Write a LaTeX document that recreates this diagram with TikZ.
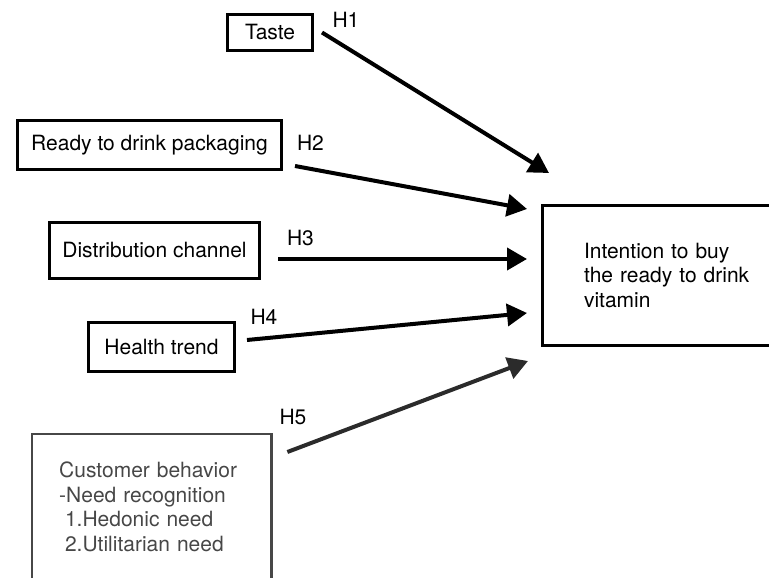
\documentclass[tikz,border=0pt]{standalone}
\usepackage{fontspec}
\setmainfont{TeX Gyre Heros}
\usetikzlibrary{arrows.meta}
\definecolor{custgray}{HTML}{474747}
\tikzset{
  box/.style={draw,line width=3pt,inner sep=0pt,minimum height=49pt},
  hyp/.style={-{Triangle[length=20pt,width=22pt]},line width=4pt},
  hlabel/.style={inner sep=0pt},
}

\begin{document}
\begin{tikzpicture}[x=1pt,y=1pt,font=\fontsize{21pt}{24.5pt}\selectfont]
			\useasboundingbox (0,0) rectangle (769,578);
			\clip (0,0) rectangle (769,578);
			\node[box,minimum width=85pt,minimum height=36pt] (taste) at (270,545.5) {Taste};
			\node[box,minimum width=264pt] (ready) at (149.5,433) {Ready to drink packaging};
			\node[box,minimum width=210pt,minimum height=56pt] (distrib) at (154.5,327.5) {Distribution channel};
			\node[box,minimum width=146pt] (health) at (161.5,231) {Health trend};
			\node[box,anchor=west,align=left,text width=180pt,inner xsep=42pt,minimum height=140pt] (intention) at (540.5,302.5) {Intention to buy\\the ready to drink\\vitamin};
			\node[anchor=north west,align=left,text width=185pt,inner xsep=27pt,inner ysep=28pt,text=custgray] (customer) at (32,144) {Customer behavior\\-Need recognition\\\hspace*{5.8pt}1.Hedonic need\\\hspace*{5.8pt}2.Utilitarian need};
			\draw[custgray,line width=2.5pt] (customer.north west) rectangle ([yshift=-30pt]customer.south east);
			\coordinate (tip1) at (549,405);
			\coordinate (tip2) at (527,369);
			\coordinate (tip3) at (527,319);
			\coordinate (tip4) at (527,265);
			\coordinate (tip5) at (528,217);
			\draw[hyp] ([xshift=8pt]taste.east) -- (tip1);
			\draw[hyp] ([shift={(12,-21)}]ready.east) -- (tip2);
			\draw[hyp] ([shift={(17,-8.5)}]distrib.east) -- (tip3);
			\draw[hyp] ([shift={(11,7)}]health.east) -- (tip4);
			\draw[hyp,custgray!60!black] ([shift={(16,-18)}]customer.north east) -- (tip5);
			\node[hlabel] (lab1) at (346,558) {H1};
			\node[hlabel] (lab2) at (310.5,435) {H2};
			\node[hlabel] (lab3) at (300.5,340) {H3};
			\node[hlabel] (lab4) at (264,261) {H4};
			\node[hlabel] (lab5) at (293,161) {H5};
		\end{tikzpicture}
\end{document}
